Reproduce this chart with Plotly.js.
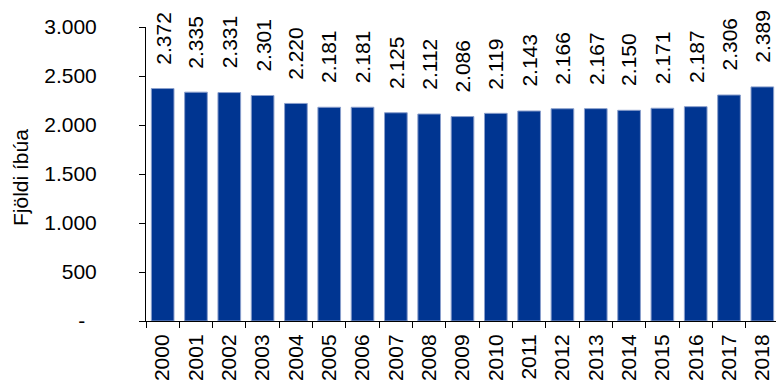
<!DOCTYPE html>
<html>
<head>
<meta charset="utf-8">
<script src="https://cdn.plot.ly/plotly-3.0.1.min.js"></script>
<style>
html,body{margin:0;padding:0;overflow:hidden;background:#fff;}
#chart{width:780px;height:382px;}
</style>
</head>
<body>
<div id="chart"></div>
<script>
const years = ['2000','2001','2002','2003','2004','2005','2006','2007','2008','2009','2010','2011','2012','2013','2014','2015','2016','2017','2018'];
const residents = [2372,2335,2331,2301,2220,2181,2181,2125,2112,2086,2119,2143,2166,2167,2150,2171,2187,2306,2389];
const yTickVals = [0,500,1000,1500,2000,2500,3000];
const yTickText = ['-\u00a0\u00a0','500','1.000','1.500','2.000','2.500','3.000'];
const yTitle = 'Fjöldi íbúa';

function fmt(v){
  const t = Math.floor(v/1000), r = v % 1000;
  return t > 0 ? t + '.' + String(r).padStart(3,'0') : String(r);
}

const font = {family:'"Liberation Sans", Arial, sans-serif', size:21, color:'#000'};

const trace = {
  type:'bar',
  x: years,
  y: residents,
  marker:{color:'#003591', line:{color:'#8a9fcc', width:1}},
  hoverinfo:'x+y'
};

const annotations = years.map((yr,i)=>({
  x: i, y: residents[i], xref:'x', yref:'y',
  text: fmt(residents[i]),
  textangle:-90, showarrow:false,
  xanchor:'center', yanchor:'bottom', yshift:22,
  font: font
}));
annotations.push({
  xref:'paper', yref:'paper', x:0, y:0.5, xanchor:'center', yanchor:'middle',
  xshift:-126, yshift:-4,
  text: yTitle, textangle:-90, showarrow:false, font: font
});

const layout = {
  width:780, height:382,
  margin:{l:146, r:1, t:27, b:61, pad:0},
  paper_bgcolor:'#fff', plot_bgcolor:'#fff',
  font: font,
  showlegend:false,
  bargap:0.32,
  xaxis:{
    type:'category',
    range:[-0.5, years.length-0.5],
    tickangle:-90,
    ticks:'outside', ticklen:6, tickwidth:1, tickcolor:'#000',
    tickson:'boundaries',
    ticklabelstandoff:4,
    showline:true, linecolor:'#000', linewidth:1,
    showgrid:false, zeroline:false,
    tickfont: font,
    automargin:false
  },
  yaxis:{
    range:[0,3000],
    tickmode:'array', tickvals:yTickVals, ticktext:yTickText,
    ticks:'outside', ticklen:6, tickwidth:1, tickcolor:'#000',
    ticklabelstandoff:38,
    showline:true, linecolor:'#000', linewidth:1,
    showgrid:false, zeroline:false,
    tickfont: font,
    automargin:false
  },
  annotations: annotations
};

Plotly.newPlot('chart',[trace],layout,{displayModeBar:false, staticPlot:true});
</script>
</body>
</html>
